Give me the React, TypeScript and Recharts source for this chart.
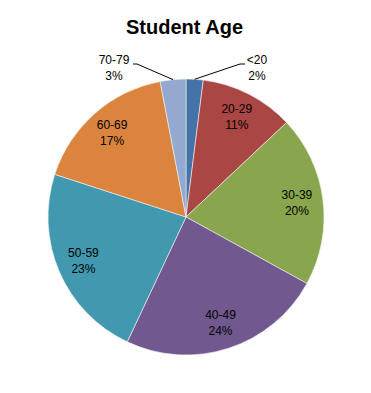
import React from "react";
import { PieChart, Pie, Cell } from "recharts";

const categories = ["<20", "20-29", "30-39", "40-49", "50-59", "60-69", "70-79"];
const shares = [2, 11, 20, 24, 23, 17, 3];
const colors = ["#4572A7", "#AA4643", "#89A54E", "#71588F", "#4198AF", "#DB843D", "#93A9CF"];
const title = "Student Age";

const data = categories.map((name, i) => ({ name, value: shares[i] }));

const FONT = "'Liberation Sans', Arial, sans-serif";
const RAD = Math.PI / 180;

const renderLabel = (props: any) => {
  const { cx, cy, midAngle, outerRadius, percent, name } = props;
  const pct = `${Math.round(percent * 100)}%`;
  if (percent < 0.05) {
    const sx = cx + outerRadius * Math.cos(-midAngle * RAD);
    const sy = cy + outerRadius * Math.sin(-midAngle * RAD);
    const right = sx >= cx;
    const sign = right ? 1 : -1;
    const ey = cy - outerRadius - 15;
    const elbowX = cx + sign * (right ? 54 : 49);
    const endX = cx + sign * (right ? 59 : 53);
    const tx = cx + sign * (right ? 71 : 72);
    return (
      <g>
        <polyline
          points={`${sx},${sy} ${elbowX},${ey} ${endX},${ey}`}
          fill="none"
          stroke="#000"
          strokeWidth={1}
        />
        <text x={tx} y={ey - 4} textAnchor="middle" dominantBaseline="central" fontSize={12} fontFamily={FONT} fill="#000">
          {name}
        </text>
        <text x={tx} y={ey + 12} textAnchor="middle" dominantBaseline="central" fontSize={12} fontFamily={FONT} fill="#000">
          {pct}
        </text>
      </g>
    );
  }
  const r = outerRadius * 0.81;
  const x = cx + r * Math.cos(-midAngle * RAD);
  const y = cy + r * Math.sin(-midAngle * RAD);
  return (
    <g>
      <text x={x} y={y - 8} textAnchor="middle" dominantBaseline="central" fontSize={12} fontFamily={FONT} fill="#000">
        {name}
      </text>
      <text x={x} y={y + 8} textAnchor="middle" dominantBaseline="central" fontSize={12} fontFamily={FONT} fill="#000">
        {pct}
      </text>
    </g>
  );
};

export default function App() {
  return (
    <div style={{ position: "absolute", left: 0, top: 0, width: 371, height: 393, background: "#fff" }}>
      <div
        style={{
          position: "absolute",
          left: 0,
          width: 371,
          top: 15,
          textAlign: "center",
          fontFamily: FONT,
          fontWeight: "bold",
          fontSize: 20,
          lineHeight: "24px",
          color: "#000",
        }}
      >
        <span style={{ position: "relative", left: -1 }}>{title}</span>
      </div>
      <PieChart width={371} height={393} margin={{ top: 0, right: 0, bottom: 0, left: 0 }}>
        <Pie
          data={data}
          dataKey="value"
          nameKey="name"
          cx={186}
          cy={217}
          outerRadius={138}
          startAngle={90}
          endAngle={-270}
          stroke="#f4f4f4"
          strokeWidth={0.6}
          label={renderLabel}
          labelLine={false}
          isAnimationActive={false}
        >
          {data.map((d, i) => (
            <Cell key={d.name} fill={colors[i]} />
          ))}
        </Pie>
      </PieChart>
    </div>
  );
}
